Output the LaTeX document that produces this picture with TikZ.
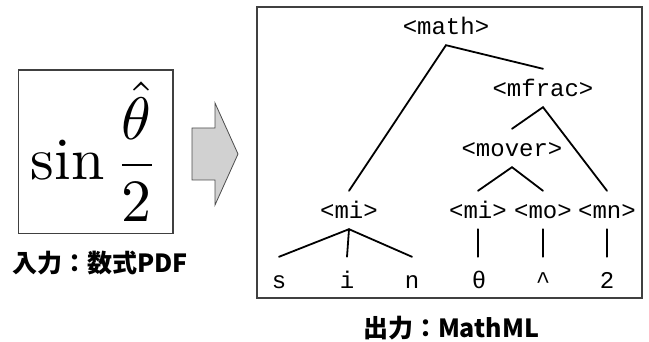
\documentclass[tikz,border=0pt]{standalone}
\usepackage{fontspec}
\usepackage{amsmath}
\setmonofont{Liberation Mono}
\newfontfamily\jpfont{Noto Sans CJK JP}
\begin{document}
\begin{tikzpicture}[x=1pt,y=-1pt,
  tag/.style={font=\ttfamily\fontsize{24}{24}\selectfont, text height=18pt, text depth=0pt, inner xsep=0pt, inner ysep=10pt, anchor=base},
  leaf/.style={font=\ttfamily\fontsize{24}{24}\selectfont, text height=20pt, text depth=0pt, inner xsep=0pt, inner ysep=12pt, anchor=base},
  edge/.style={line width=1.8pt, line cap=round},
  label/.style={font=\jpfont\bfseries\fontsize{25}{25}\selectfont, inner sep=0pt, text height=18pt, text depth=3pt},
  frame/.style={draw=black!75, line width=1.1pt}]
\useasboundingbox (0,0) rectangle (649,342);
% left formula box
\draw[frame] (18.5,70) rectangle (173,233.5);
\node[inner sep=0pt, anchor=base] (formula) at (95,180) {\scalebox{6}{$\sin\dfrac{\hat{\theta}}{2}$}};
\node[label] (inlabel) at (100,265) {入力：数式PDF};
% arrow
\draw[draw=black!70, fill=black!18, line width=0.8pt] (192,128) -- (215,128) -- (215,103) -- (238,154) -- (215,205) -- (215,180) -- (192,180) -- cycle;
% right box
\draw[frame] (257,7) rectangle (642,298);
\node[label] (outlabel) at (451,330) {出力：MathML};
% tree
\node[tag] (math) at (446,35) {<math>};
\node[tag] (mfrac) at (543,97) {<mfrac>};
\node[tag] (mover) at (512,157) {<mover>};
\node[tag] (mi) at (349,219) {<mi>};
\node[tag] (mi2) at (478,219) {<mi>};
\node[tag] (mo) at (543,219) {<mo>};
\node[tag] (mn) at (607,219) {<mn>};
\node[leaf] (s) at (279,289) {s};
\node[leaf] (i) at (347,289) {i};
\node[leaf] (n) at (412,289) {n};
\node[leaf] (theta) at (479,289) {θ};
\node[leaf] (hat) at (543,289) {\textasciicircum};
\node[leaf] (two) at (607,289) {2};
\draw[edge] (mi.north) -- (math.south) -- (mfrac.north);
\draw[edge] (mover.north) -- (mfrac.south) -- (mn.north);
\draw[edge] (mi2.north) -- (mover.south) -- (mo.north);
\draw[edge] (mi.south) -- (s.north);
\draw[edge] (mi.south) -- (i.north);
\draw[edge] (mi.south) -- (n.north);
\draw[edge] (mi2.south) -- (mi2.south |- theta.north);
\draw[edge] (mo.south) -- (mo.south |- hat.north);
\draw[edge] (mn.south) -- (mn.south |- two.north);
\end{tikzpicture}
\end{document}
